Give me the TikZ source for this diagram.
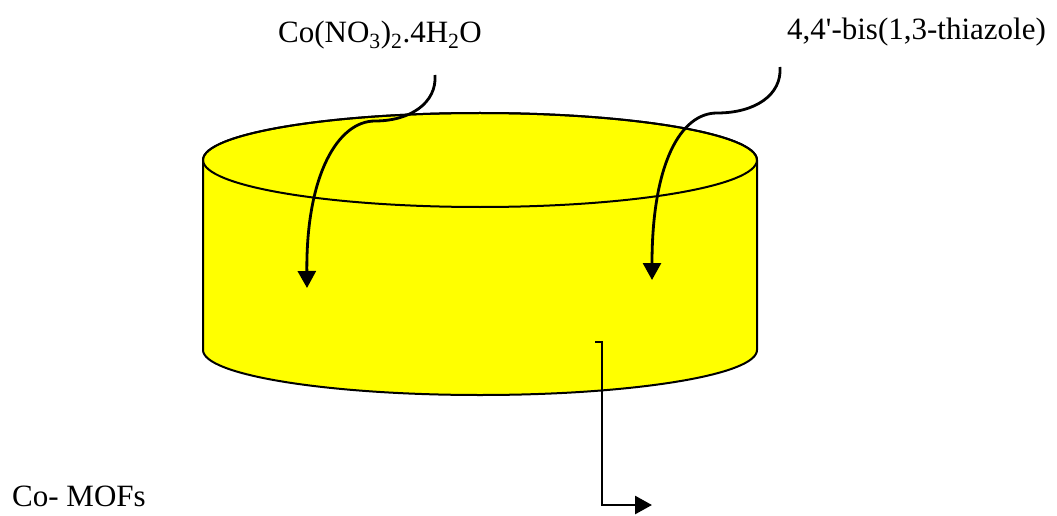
\documentclass[tikz,border=0pt]{standalone}
\usepackage{fontspec}
\setmainfont{Liberation Serif}
\usetikzlibrary{arrows.meta}
\definecolor{vesselyellow}{RGB}{255,255,0}
\tikzset{
  lbl/.style={anchor=base west,inner sep=0pt,font=\fontsize{31}{38}\selectfont},
  feed/.style={line width=2.8pt,-{Triangle[width=18pt,length=17pt]}},
  vessel/.style={line width=2pt,fill=vesselyellow,draw=black}
}
\begin{document}
\begin{tikzpicture}[x=1pt,y=1pt]
\useasboundingbox (0,0) rectangle (1057,515);
% cylinder body
\path[vessel] (203,355) -- (203,165) arc[start angle=180,end angle=360,x radius=277pt,y radius=45pt] -- (757,355) arc[start angle=0,end angle=180,x radius=277pt,y radius=47pt] -- cycle;
\draw[line width=2pt] (480,355) ellipse[x radius=277pt,y radius=47pt];
% labels
\node[lbl] (salt) at (278,472) {Co(NO\textsubscript{3})\textsubscript{2}.4H\textsubscript{2}O};
\node[lbl] (ligand) at (787,475) {4,4\textquotesingle-bis(1,3-thiazole)};
\node[lbl] (product) at (12,9) {Co- MOFs};
% connector ends
\coordinate (s1) at (435,440);
\coordinate (t1) at (307,227);
\coordinate (s2) at (780,448);
\coordinate (t2) at (652,235);
\coordinate (s3) at (595,173);
\coordinate (t3) at (652,10);
\draw[feed] (s1) .. controls (437,412) and (410,394) .. (375,394) .. controls (338,394) and (306,340) .. (t1);
\draw[feed] (s2) .. controls (782,420) and (755,402) .. (717,402) .. controls (680,402) and (652,350) .. (t2);
\draw[feed] (s3) -- (602,173) |- (t3);
\end{tikzpicture}
\end{document}
